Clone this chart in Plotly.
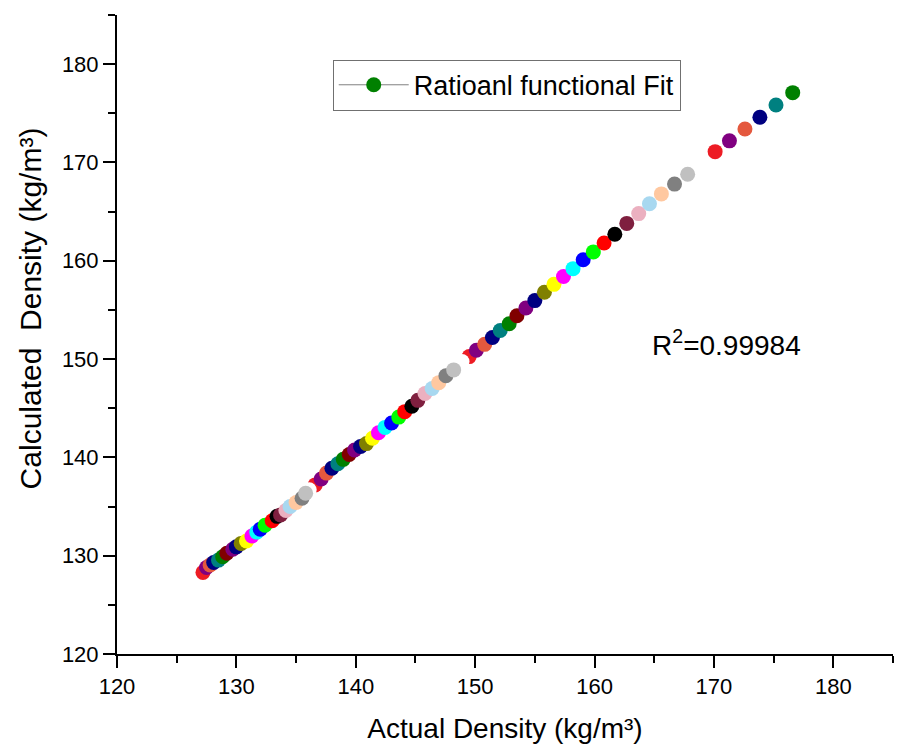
import plotly.graph_objects as go

# Colour cycle used along each group (ascending order of density)
color_cycle = [
    "#ED1C24", "#800080", "#E4583E", "#000080", "#008080", "#008000",
    "#800000", "#800080", "#000080", "#808000", "#FFFF00", "#FF00FF",
    "#00FFFF", "#0000FF", "#00FF00", "#FF0000", "#000000", "#7F1F3F",
    "#EBB0C0", "#A8D8F0", "#FFC8A0", "#808080", "#C0C0C0",
]

# Group 0 (lowest densities)
actual_g0 = [127.2, 127.5, 127.8, 128.1, 128.5, 128.85, 129.2, 129.7, 130.0, 130.4,
             130.85, 131.3, 131.7, 132.0, 132.4, 133.0, 133.4, 133.7, 134.15, 134.5,
             135.0, 135.5, 135.8]
calc_g0 = [128.3, 128.8, 129.05, 129.3, 129.55, 129.9, 130.25, 130.65, 130.9, 131.25,
           131.5, 132.0, 132.4, 132.7, 133.1, 133.55, 134.0, 134.15, 134.6, 135.0,
           135.4, 135.85, 136.35]

# Group 1
actual_g1 = [136.6, 137.1, 137.55, 138.0, 138.5, 138.95, 139.45, 139.9, 140.4, 140.9,
             141.4, 141.9, 142.45, 143.0, 143.6, 144.1, 144.7, 145.2, 145.8, 146.4,
             146.95, 147.55, 148.2]
calc_g1 = [137.2, 137.8, 138.4, 138.9, 139.35, 139.8, 140.3, 140.75, 141.1, 141.4,
           141.95, 142.5, 143.05, 143.5, 144.1, 144.65, 145.2, 145.8, 146.5, 147.0,
           147.6, 148.3, 148.9]

# Group 2
actual_g2 = [149.5, 150.1, 150.8, 151.45, 152.1, 152.85, 153.5, 154.25, 155.0, 155.8,
             156.6, 157.4, 158.2, 159.05, 159.9, 160.8, 161.7, 162.7, 163.7, 164.6,
             165.6, 166.7, 167.8]
calc_g2 = [150.25, 150.9, 151.5, 152.2, 152.9, 153.6, 154.4, 155.2, 155.95, 156.8,
           157.6, 158.4, 159.2, 160.1, 160.9, 161.8, 162.7, 163.8, 164.8, 165.8,
           166.8, 167.8, 168.8]

# Group 3 (highest densities)
actual_g3 = [170.1, 171.3, 172.6, 173.85, 175.2, 176.6]
calc_g3 = [171.1, 172.2, 173.4, 174.6, 175.85, 177.1]

# White points (invisible on the white background, they only clip neighbours)
actual_white_g2 = [148.9]
calc_white_g2 = [149.75]
actual_white_g1 = [136.1]
calc_white_g1 = [136.7]

legend_name = "Ratioanl functional Fit"
r2_text = "R<sup>2</sup>=0.99984"
x_title = "Actual Density (kg/m³)"
y_title = "Calculated  Density (kg/m³)"
x_ticks = [120, 130, 140, 150, 160, 170, 180]
y_ticks = [120, 130, 140, 150, 160, 170, 180]

FONT = "Liberation Sans, Arial, Helvetica, sans-serif"
MS = 15

fig = go.Figure()


def add_group(xs, ys, colors):
    fig.add_trace(go.Scatter(
        x=xs, y=ys, mode="markers", showlegend=False, hoverinfo="x+y",
        marker=dict(size=MS, color=colors, line=dict(width=0)),
    ))


add_group(actual_g3, calc_g3, color_cycle[:len(actual_g3)])
add_group(actual_g2, calc_g2, color_cycle[:len(actual_g2)])
add_group(actual_white_g2, calc_white_g2, ["#FFFFFF"])
add_group(actual_g1, calc_g1, color_cycle[:len(actual_g1)])
add_group(actual_white_g1, calc_white_g1, ["#FFFFFF"])
add_group(actual_g0, calc_g0, color_cycle[:len(actual_g0)])

# legend entry
fig.add_trace(go.Scatter(
    x=[None], y=[None], mode="lines+markers", name=legend_name,
    line=dict(color="#808080", width=1),
    marker=dict(size=MS, color="#008000"),
))

axis_common = dict(
    showline=True, linecolor="black", linewidth=2, mirror=False,
    showgrid=False, zeroline=False,
    ticks="outside", ticklen=12, tickwidth=2, tickcolor="black",
    minor=dict(ticks="outside", ticklen=7, tickwidth=2, tickcolor="black", dtick=5, showgrid=False),
    tickfont=dict(family=FONT, size=22, color="black"),
    automargin=False,
)

fig.update_layout(
    width=912, height=754,
    margin=dict(l=117, r=19, t=15, b=100),
    paper_bgcolor="white", plot_bgcolor="white",
    font=dict(family=FONT, color="black"),
    xaxis=dict(range=[120, 185], tickvals=x_ticks, dtick=10, **axis_common,
               title=dict(text=x_title, font=dict(family=FONT, size=28), standoff=20)),
    yaxis=dict(range=[120, 185], tickvals=y_ticks, dtick=10, **axis_common),
    legend=dict(
        x=0.278, y=0.93, xanchor="left", yanchor="top",
        bgcolor="white", bordercolor="#707070", borderwidth=1,
        font=dict(family=FONT, size=27, color="black"),
        itemwidth=70,
    ),
    annotations=[
        dict(text=r2_text, xref="paper", yref="paper", x=0.687, y=0.487,
             xanchor="left", yanchor="middle", showarrow=False,
             font=dict(family=FONT, size=28, color="black")),
        dict(text=y_title, xref="paper", yref="paper", x=-0.112, y=0.541,
             xanchor="center", yanchor="middle", textangle=-90, showarrow=False,
             font=dict(family=FONT, size=30, color="black")),
    ],
)

fig.write_html("out.html")
